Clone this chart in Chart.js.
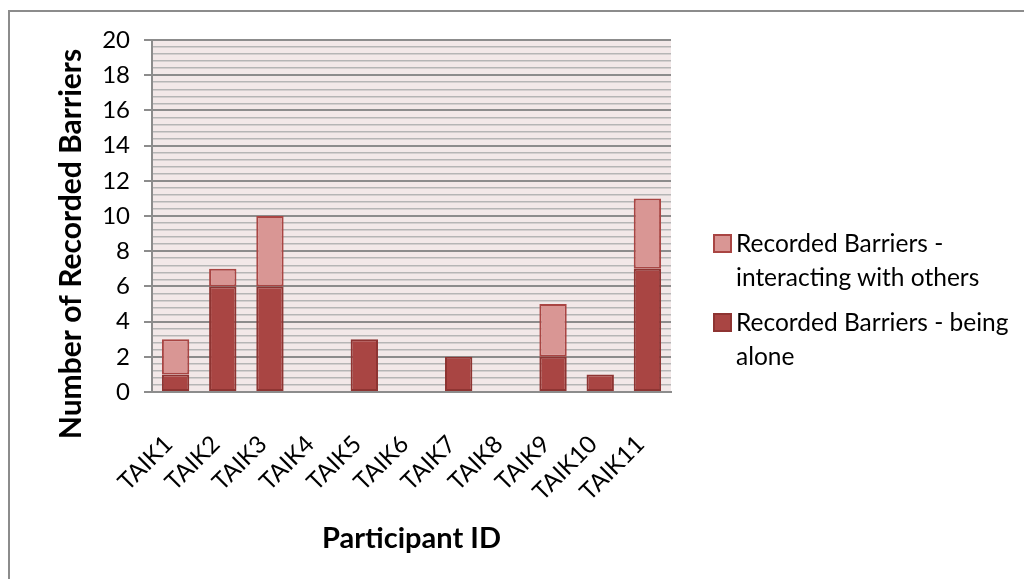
<!DOCTYPE html>
<html>
<head>
<meta charset="utf-8">
<script src="https://cdn.jsdelivr.net/npm/chart.js@4.4.0/dist/chart.umd.min.js"></script>
<style>
  body { margin: 0; width: 1024px; height: 579px; overflow: hidden; background: #fff; font-family: Lato, sans-serif; }
  #wrap { position: relative; width: 1024px; height: 579px; overflow: hidden; }
  #frame { position: absolute; left: 8px; top: 10px; width: 1100px; height: 700px; border: 2px solid #8c8c8c; }
  canvas { position: absolute; left: 0; top: 0; }
  #legend { position: absolute; left: 713px; top: 226px; font-size: 24.5px; line-height: 34px; color: #000; }
  .item { position: relative; padding-left: 23px; margin-bottom: 11px; }
  .sq { position: absolute; left: 0; top: 8px; width: 15px; height: 15px; border: 2px solid; }
</style>
</head>
<body>
<div id="wrap">
  <div id="frame"></div>
  <canvas id="myChart" width="1024" height="579"></canvas>
  <div id="legend"></div>
</div>
<script>
// data
var participants = ["TAIK1", "TAIK2", "TAIK3", "TAIK4", "TAIK5", "TAIK6", "TAIK7", "TAIK8", "TAIK9", "TAIK10", "TAIK11"];
var alone = [1, 6, 6, 0, 3, 0, 2, 0, 2, 1, 7];        // Recorded Barriers - being alone
var withOthers = [2, 1, 4, 0, 0, 0, 0, 0, 3, 0, 4];   // Recorded Barriers - interacting with others
var aloneLabel = ["Recorded Barriers - being", "alone"];
var othersLabel = ["Recorded Barriers -", "interacting with others"];
var yTitle = "Number of Recorded Barriers";
var xTitle = "Participant ID";

var darkRed = "#a94543";
var darkEdge = "#8e3432";
var lightRed = "#d99694";

function isMajor(v) { return Math.abs(v / 2 - Math.round(v / 2)) < 1e-6; }

// pinkish plot area
var plotBg = {
  id: "plotBg",
  beforeDraw: function (chart) {
    var a = chart.chartArea, ctx = chart.ctx;
    ctx.save();
    ctx.fillStyle = "#f2e8e8";
    ctx.fillRect(a.left, a.top, a.right - a.left, a.bottom - a.top);
    ctx.restore();
  }
};

// y title drawn by hand so it sits where Excel put it
var yTitlePlugin = {
  id: "yTitle",
  afterDraw: function (chart) {
    var ctx = chart.ctx;
    ctx.save();
    ctx.translate(71, 244);
    ctx.rotate(-Math.PI / 2);
    ctx.font = "bold 30px Lato";
    ctx.fillStyle = "#000";
    ctx.textAlign = "center";
    ctx.textBaseline = "middle";
    ctx.fillText(yTitle, 0, 0);
    ctx.restore();
  }
};

var ctx = document.getElementById("myChart");
var myChart = new Chart(ctx, {
  type: "bar",
  data: {
    labels: participants,
    datasets: [{
      label: aloneLabel.join(" "),
      data: alone,
      backgroundColor: darkRed,
      borderColor: darkEdge,
      borderWidth: 2,
      borderSkipped: false,
      barPercentage: 0.58,
      categoryPercentage: 1
    }, {
      label: othersLabel.join(" "),
      data: withOthers,
      backgroundColor: lightRed,
      borderColor: darkRed,
      borderWidth: 2,
      borderSkipped: false,
      barPercentage: 0.58,
      categoryPercentage: 1
    }]
  },
  options: {
    responsive: false,
    animation: false,
    devicePixelRatio: 1,
    layout: { padding: { left: 0, right: 353, top: 40, bottom: 0 } },
    plugins: { legend: { display: false }, tooltip: { enabled: false } },
    scales: {
      x: {
        stacked: true,
        grid: { display: false, drawTicks: false },
        border: { color: "#8c8c8c", width: 2 },
        ticks: { minRotation: 45, maxRotation: 45, autoSkip: false, padding: 38, labelOffset: -7, color: "#000", font: { family: "Lato", size: 24 } },
        title: { display: true, text: xTitle, color: "#000", font: { family: "Lato", size: 29, weight: "bold" }, padding: { top: 0, bottom: 23 } },
        afterFit: function (s) { s.height = 187; }
      },
      y: {
        stacked: true,
        min: 0,
        max: 20,
        ticks: {
          stepSize: 0.4,
          maxTicksLimit: 100,
          autoSkip: false,
          padding: 14,
          color: "#000",
          font: { family: "Lato", size: 24 },
          callback: function (v) { return isMajor(v) ? Math.round(v) : ""; }
        },
        grid: {
          color: function (c) { return isMajor(c.tick.value) ? "#8c8c8c" : "#b5b5b5"; },
          lineWidth: function (c) { return isMajor(c.tick.value) ? 2 : 1.5; },
          tickLength: 8,
          tickColor: function (c) { return isMajor(c.tick.value) ? "#8c8c8c" : "rgba(0,0,0,0)"; }
        },
        border: { color: "#8c8c8c", width: 2 },
        afterFit: function (s) { s.width = 152; }
      }
    }
  },
  plugins: [plotBg, yTitlePlugin]
});

// legend (top series first, like the original)
var legendHtml = "";
legendHtml += '<div class="item"><span class="sq" style="background:' + lightRed + ';border-color:' + darkRed + '"></span>' + othersLabel.join("<br>") + "</div>";
legendHtml += '<div class="item"><span class="sq" style="background:' + darkRed + ';border-color:' + darkEdge + '"></span>' + aloneLabel.join("<br>") + "</div>";
document.getElementById("legend").innerHTML = legendHtml;
</script>
</body>
</html>
